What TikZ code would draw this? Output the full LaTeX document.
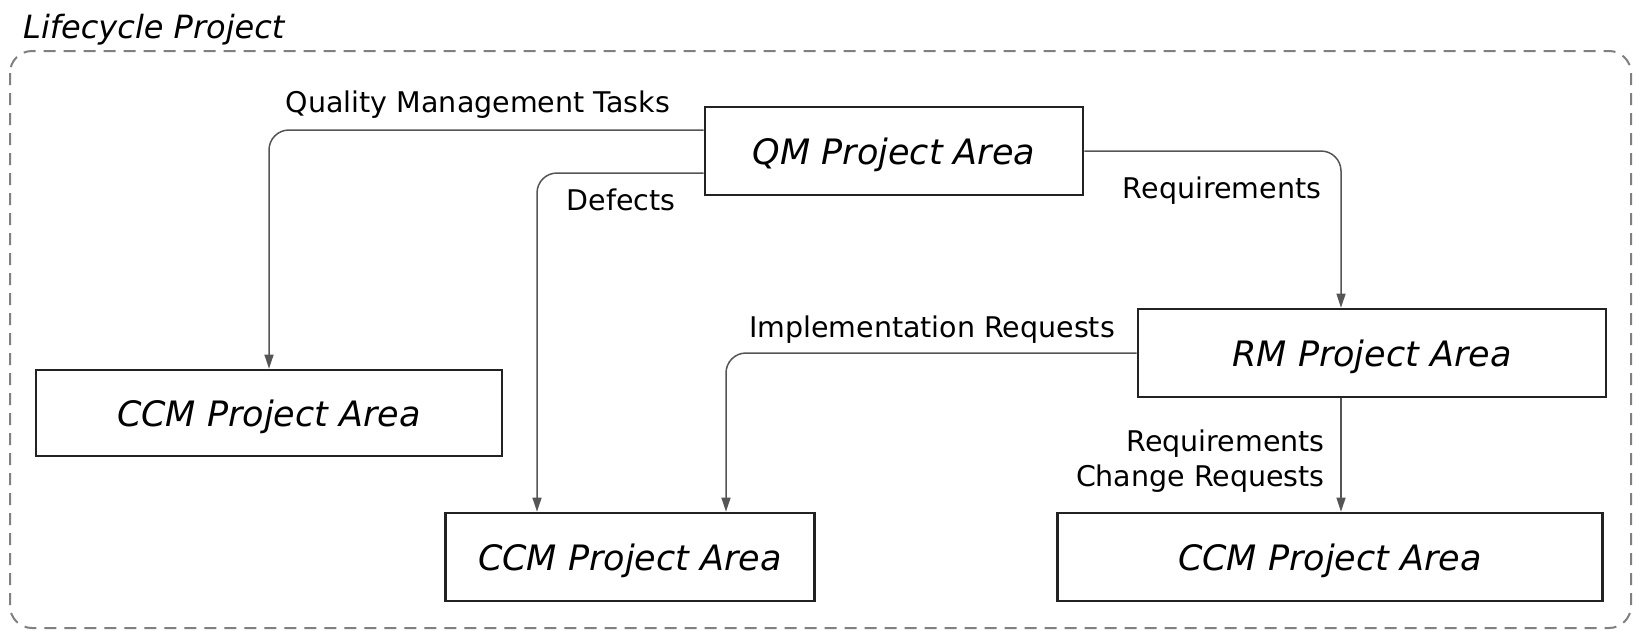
\documentclass[tikz,border=0pt]{standalone}
\usepackage{fontspec}
\setmainfont{DejaVu Sans}
\usetikzlibrary{arrows.meta}
\definecolor{boxline}{HTML}{222222}
\definecolor{connline}{HTML}{555555}
\definecolor{frameline}{HTML}{808080}
\begin{document}
\begin{tikzpicture}[x=1pt,y=-1pt,
  box/.style={draw=boxline,line width=2.7pt,fill=white,inner sep=0pt,text depth=0pt,
    font=\fontsize{35}{40}\selectfont\itshape},
  conn/.style={draw=connline,line width=1.5pt,rounded corners=20pt,
    -{Triangle[length=14pt,width=9pt]}},
  lbl/.style={inner sep=0pt,font=\fontsize{28.5}{36}\selectfont},
  frame/.style={draw=frameline,line width=2pt,dash pattern=on 12pt off 8pt,rounded corners=22pt}
]
\useasboundingbox (0,0) rectangle (1633,630);
\path[frame] (10,51) rectangle (1631,628);
\node[anchor=west,inner sep=0pt,font=\fontsize{32}{36}\selectfont\itshape] (title) at (23,30) {Lifecycle Project};

\node[box,minimum width=378pt,minimum height=88pt] (qm) at (894,151) {QM Project Area};
\node[box,minimum width=468pt,minimum height=88pt] (rm) at (1372,353) {RM Project Area};
\node[box,minimum width=466pt,minimum height=86pt] (ccml) at (269,413) {CCM Project Area};
\node[box,minimum width=369pt,minimum height=88pt] (ccmm) at (630,557) {CCM Project Area};
\node[box,minimum width=545pt,minimum height=88pt] (ccmr) at (1330,557) {CCM Project Area};

\draw[conn] ([yshift=21pt]qm.west) -| (ccml.north);
\draw[conn] ([yshift=-22pt]qm.west) -| ([xshift=-93pt]ccmm.north);
\draw[conn] (qm.east) -| ([xshift=-31pt]rm.north);
\draw[conn] (rm.west) -| ([xshift=96pt]ccmm.north);
\draw[conn] ([xshift=-31pt]rm.south) -- ([xshift=-31pt]rm.south |- ccmr.north);

\node[lbl] (lqmt) at (478,105) {Quality Management Tasks};
\node[lbl] (ldef) at (621,200) {Defects};
\node[lbl] (lreq) at (1222,191) {Requirements};
\node[lbl] (limp) at (932,330) {Implementation Requests};
\node[lbl,anchor=east,align=right,font=\fontsize{28.5}{35}\selectfont] (lrcr) at (1325,461) {Requirements\\Change Requests};
\end{tikzpicture}
\end{document}
